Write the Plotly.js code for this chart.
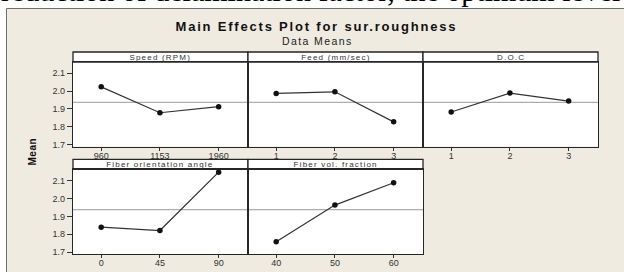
<!DOCTYPE html>
<html>
<head>
<meta charset="utf-8">
<script src="https://cdn.plot.ly/plotly-3.0.1.min.js"></script>
<style>
  html, body { margin: 0; padding: 0; background: #fff; }
  #chart { width: 624px; height: 272px; }
  g.annotation[data-index="1"] text { letter-spacing: 1.8px; }
  g.annotation[data-index="2"] text { letter-spacing: 1.4px; }
  g.annotation[data-index="3"] text { letter-spacing: 0.5px; }
  g.annotation[data-index="4"] text, g.annotation[data-index="5"] text,
  g.annotation[data-index="6"] text, g.annotation[data-index="7"] text,
  g.annotation[data-index="8"] text { letter-spacing: 1.2px; }
</style>
</head>
<body>
<div id="chart"></div>
<script>
// ---- data ----
const factorNames = ['Speed (RPM)', 'Feed (mm/sec)', 'D.O.C', 'Fiber orientation angle', 'Fiber vol. fraction'];
const speedLevels = ['960', '1153', '1960'];
const speedMeans  = [2.024, 1.879, 1.913];
const feedLevels  = ['1', '2', '3'];
const feedMeans   = [1.987, 1.996, 1.828];
const docLevels   = ['1', '2', '3'];
const docMeans    = [1.883, 1.989, 1.944];
const angleLevels = ['0', '45', '90'];
const angleMeans  = [1.840, 1.821, 2.147];
const volLevels   = ['40', '50', '60'];
const volMeans    = [1.758, 1.963, 2.088];
const yTickVals   = [1.7, 1.8, 1.9, 2.0, 2.1];
const yTickText   = ['1.7', '1.8', '1.9', '2.0', '2.1'];

const levelSets = [speedLevels, feedLevels, docLevels, angleLevels, volLevels];
const meanSets  = [speedMeans, feedMeans, docMeans, angleMeans, volMeans];
const allVals = [].concat(...meanSets);
const grandMean = allVals.reduce((a, b) => a + b, 0) / allVals.length;

// ---- layout helpers (pixel -> paper) ----
const W = 624, H = 272;
const px = x => x / W;
const py = y => 1 - y / H;

const colX = [[73, 248], [248, 423], [423, 598]];
const rowY = [{strip: [52, 62], data: [62, 146.5]}, {strip: [159.3, 169.3], data: [169.3, 254]}];
const cells = [[0, 0], [0, 1], [0, 2], [1, 0], [1, 1]]; // [row, col]

const yRange = [1.69, 2.163];
const xRange = [-0.48, 2.5];
const frameColor = '#262626';
const tickFont = {family: 'Liberation Sans, Arial, sans-serif', size: 9, color: '#333'};

const data = [];
const layout = {
  width: W, height: H,
  margin: {l: 0, r: 0, t: 0, b: 0},
  paper_bgcolor: '#EFEBE1',
  plot_bgcolor: '#FFFFFF',
  showlegend: false,
  shapes: [],
  annotations: []
};

// background frame pieces
layout.shapes.push({type: 'rect', xref: 'paper', yref: 'paper', x0: -0.01, x1: px(6.5), y0: -0.01, y1: 1.01, fillcolor: '#FFFFFF', line: {width: 0}, layer: 'below'});
layout.shapes.push({type: 'rect', xref: 'paper', yref: 'paper', x0: -0.01, x1: 1.01, y0: py(8.5), y1: 1.01, fillcolor: '#FFFFFF', line: {width: 0}, layer: 'below'});
layout.shapes.push({type: 'line', xref: 'paper', yref: 'paper', x0: px(6.5), x1: px(6.5), y0: -0.01, y1: py(8.5), line: {color: '#6e6e6e', width: 1}, layer: 'below'});
layout.shapes.push({type: 'line', xref: 'paper', yref: 'paper', x0: px(6.5), x1: 1.01, y0: py(8.5), y1: py(8.5), line: {color: '#6e6e6e', width: 1}, layer: 'below'});

// text annotations
layout.annotations.push({xref: 'paper', yref: 'paper', x: px(-1), y: py(-9.3), xanchor: 'left', yanchor: 'middle', showarrow: false,
  text: 'reduction of delamination factor, the optimum level', font: {family: 'Liberation Serif, Times New Roman, serif', size: 30, color: '#000'}});
layout.annotations.push({xref: 'paper', yref: 'paper', x: px(316), y: py(27), xanchor: 'center', yanchor: 'middle', showarrow: false,
  text: 'Main Effects Plot for sur.roughness', font: {family: 'Liberation Sans, Arial, sans-serif', size: 13, color: '#111', weight: 'bold'}});
layout.annotations.push({xref: 'paper', yref: 'paper', x: px(317), y: py(40.5), xanchor: 'center', yanchor: 'middle', showarrow: false,
  text: 'Data Means', font: {family: 'Liberation Sans, Arial, sans-serif', size: 10.5, color: '#222'}});
layout.annotations.push({xref: 'paper', yref: 'paper', x: px(31.5), y: py(152), xanchor: 'center', yanchor: 'middle', showarrow: false, textangle: -90,
  text: 'Mean', font: {family: 'Liberation Sans, Arial, sans-serif', size: 10, color: '#111', weight: 'bold'}});

cells.forEach(([r, c], i) => {
  const n = i + 1;
  const xa = 'xaxis' + (n === 1 ? '' : n), ya = 'yaxis' + (n === 1 ? '' : n);
  const xr = 'x' + (n === 1 ? '' : n), yr = 'y' + (n === 1 ? '' : n);
  const [x0, x1] = colX[c];
  const row = rowY[r];

  layout[xa] = {
    domain: [px(x0), px(x1)], anchor: yr, type: 'category', range: xRange,
    showline: true, mirror: true, linecolor: frameColor, linewidth: 1.3,
    showgrid: false, zeroline: false, ticks: 'outside', ticklen: 3, tickwidth: 1, tickcolor: '#333',
    ticklabelstandoff: -3,
    tickfont: tickFont, fixedrange: true
  };
  layout[ya] = {
    domain: [py(row.data[1]), py(row.data[0])], anchor: xr, range: yRange,
    showline: true, mirror: true, linecolor: frameColor, linewidth: 1.3,
    showgrid: false, zeroline: false, fixedrange: true,
    tickvals: yTickVals, ticktext: yTickText,
    ticks: c === 0 ? 'outside' : '', ticklen: 5, tickwidth: 1, tickcolor: '#333',
    showticklabels: c === 0, tickfont: tickFont
  };

  // grand mean reference line
  layout.shapes.push({type: 'line', xref: xr + ' domain', yref: yr, x0: 0, x1: 1, y0: grandMean, y1: grandMean,
    line: {color: '#9a9a9a', width: 1}, layer: 'below'});

  // strip header
  layout.shapes.push({type: 'rect', xref: 'paper', yref: 'paper', x0: px(x0), x1: px(x1), y0: py(row.strip[1]), y1: py(row.strip[0]),
    fillcolor: '#FFFFFF', line: {color: frameColor, width: 1.3}, layer: 'below'});
  layout.annotations.push({xref: 'paper', yref: 'paper', x: px((x0 + x1) / 2), y: py((row.strip[0] + row.strip[1]) / 2 + 0.4),
    xanchor: 'center', yanchor: 'middle', showarrow: false, text: factorNames[i],
    font: {family: 'Liberation Sans, Arial, sans-serif', size: 8, color: '#333'}});

  data.push({
    type: 'scatter', mode: 'lines+markers', xaxis: xr, yaxis: yr,
    x: levelSets[i], y: meanSets[i],
    line: {color: '#333333', width: 1.2},
    marker: {color: '#111111', size: 5.5, symbol: 'circle'},
    hoverinfo: 'skip', cliponaxis: false
  });
});

Plotly.newPlot('chart', data, layout, {staticPlot: true, displayModeBar: false});
</script>
</body>
</html>
